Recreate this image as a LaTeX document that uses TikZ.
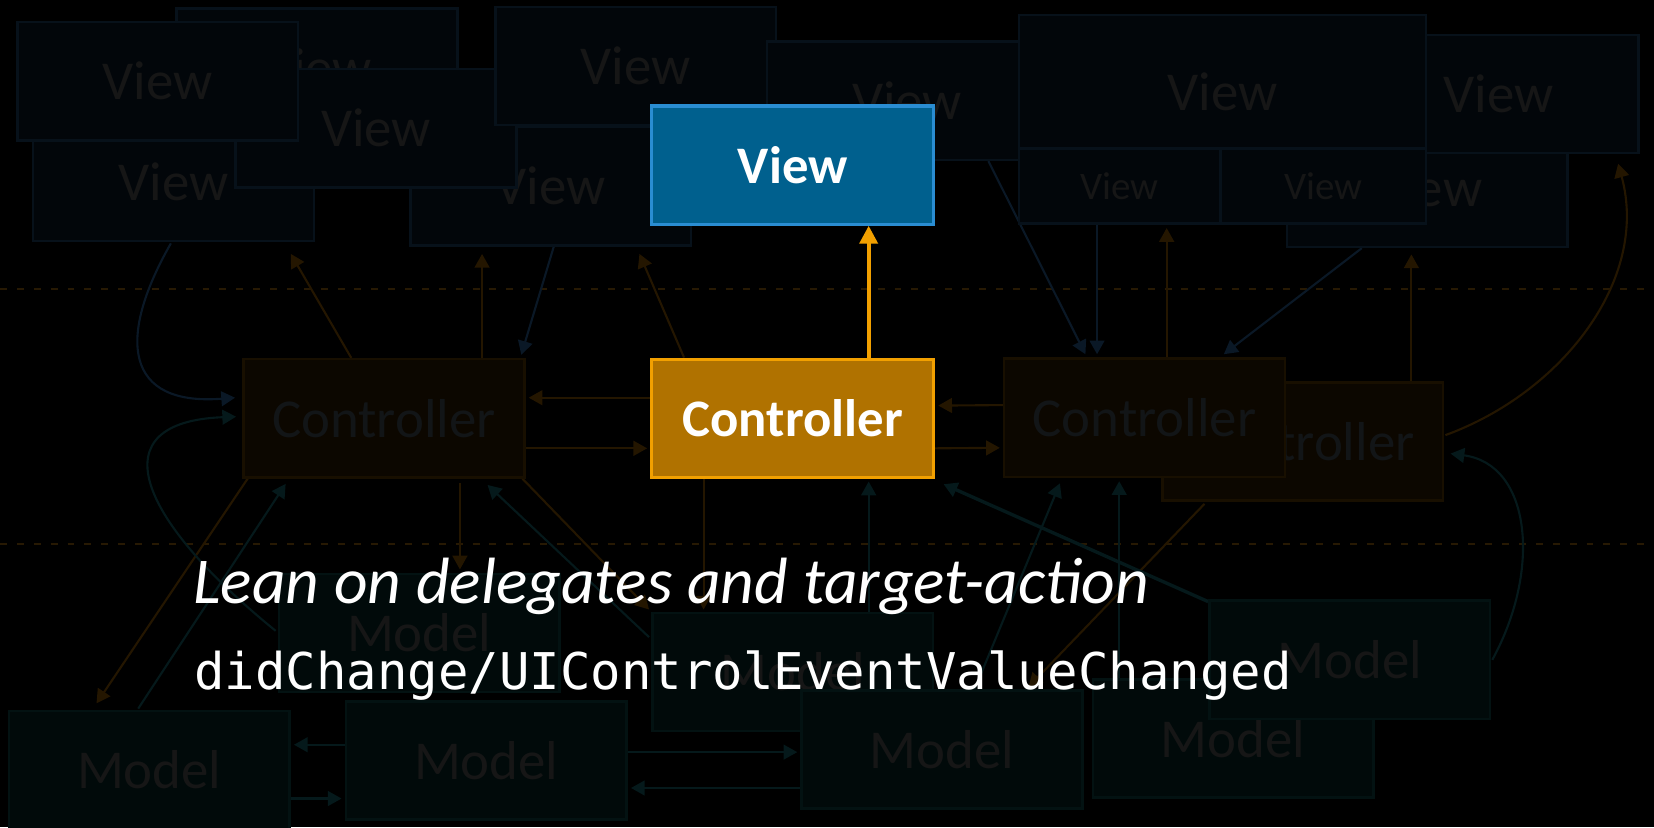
\documentclass[tikz,border=0pt]{standalone}
\usepackage{fontspec}
\setmainfont{Carlito}
\newfontfamily\codefont{DejaVu Sans Mono}
\usetikzlibrary{arrows.meta,calc}
\pgfdeclarelayer{back}
\pgfdeclarelayer{links}
\pgfsetlayers{back,links,main}
\definecolor{dvfill}{HTML}{02060A}
\definecolor{dvline}{HTML}{07111A}
\definecolor{dvtext}{HTML}{161616}
\definecolor{dcfill}{HTML}{0C0700}
\definecolor{dcline}{HTML}{180F00}
\definecolor{dctext}{HTML}{121517}
\definecolor{dmfill}{HTML}{010A0A}
\definecolor{dmline}{HTML}{031212}
\definecolor{dmtext}{HTML}{161616}
\definecolor{lorange}{HTML}{241600}
\definecolor{lblue}{HTML}{0A1826}
\definecolor{lteal}{HTML}{05191B}
\definecolor{dotcol}{HTML}{271903}
\definecolor{vmfill}{HTML}{00608E}
\definecolor{vmline}{HTML}{2A8DD2}
\definecolor{cmfill}{HTML}{B07200}
\definecolor{cmline}{HTML}{F2A000}
\tikzset{
  box/.style={draw, rectangle, minimum width=133pt, minimum height=56pt, inner sep=0pt, line width=1.2pt, font=\fontsize{26}{28}\selectfont},
  dview/.style={box, fill=dvfill, draw=dvline, text=dvtext},
  subview/.style={dview, font=\fontsize{18.5}{20}\selectfont},
  dctrl/.style={box, fill=dcfill, draw=dcline, text=dctext},
  dmodel/.style={box, fill=dmfill, draw=dmline, text=dmtext},
  mainview/.style={box, fill=vmfill, draw=vmline, text=white, line width=1.5pt, font=\fontsize{25}{27}\selectfont\bfseries},
  mainctrl/.style={box, fill=cmfill, draw=cmline, text=white, line width=1.5pt, font=\fontsize{25}{27}\selectfont\bfseries},
  link/.style={line width=1pt, -{Triangle[length=6.5pt,width=7pt]}},
  olink/.style={link, draw=lorange},
  blink/.style={link, draw=lblue},
  tlink/.style={link, draw=lteal},
  mainlink/.style={draw=cmline, line width=1.9pt, -{Triangle[length=8.5pt,width=8.5pt]}},
  dotline/.style={draw=dotcol, line width=1pt, dash pattern=on 3.3pt off 4.7pt},
}
\begin{document}
\begin{tikzpicture}[x=0.5pt,y=-0.5pt]
\begin{pgfonlayer}{back}
\fill[black] (0,0) rectangle (1568,784);
\end{pgfonlayer}
\useasboundingbox (0,0) rectangle (1568,784);

% dotted separators
\coordinate (D1a) at (0,274); \coordinate (D1b) at (1568,274);
\coordinate (D2a) at (0,516); \coordinate (D2b) at (1568,516);
\begin{pgfonlayer}{links}
\draw[dotline] (D1a) -- (D1b);
\draw[dotline] (D2a) -- (D2b);
\end{pgfonlayer}

% view layer
\node[dview] (V2) at (300.5,64) {View};
\node[dview] (V3) at (164.5,172.5) {View};
\node[dview] (V6) at (522,176.5) {View};
\node[dview] (V4) at (356.5,121.5) {View};
\node[dview] (V1) at (149.5,77) {View};
\node[dview] (V5) at (602.5,62.5) {View};
\node[dview] (V7) at (860,95.5) {View};
\node[dview] (V10) at (1353,178) {View};
\node[dview] (V9) at (1420.5,89) {View};
\node[dview, minimum width=193pt, minimum height=99pt] (V8) at (1159,113) {};
\node[font=\fontsize{26}{28}\selectfont, text=dvtext, inner sep=0pt] (V8t) at (1159,87) {View};
\node[subview, minimum width=95.5pt, minimum height=35.5pt] (V8a) at (1061.5,176.5) {View};
\node[subview, minimum width=97.5pt, minimum height=35.5pt] (V8b) at (1254.5,176.5) {View};
\node[mainview, minimum width=133.5pt] (VM) at (751.5,156.5) {View};

% controller layer
\node[dctrl] (CR2) at (1235,418.5) {Controller};
\node[dctrl] (CR1) at (1085,396) {Controller};
\node[dctrl] (CL) at (364,396.5) {Controller};
\node[mainctrl, minimum width=133.5pt] (CM) at (751.5,396.5) {Controller};

% model layer
\node[dmodel] (M1) at (141.5,730) {Model};
\node[dmodel] (M2) at (461,721) {Model};
\node[dmodel] (M3) at (397.5,600) {Model};
\node[dmodel] (M4) at (751.5,637) {Model};
\node[dmodel] (M5) at (893,710.5) {Model};
\node[dmodel] (M6) at (1169,700) {Model};
\node[dmodel] (M7) at (1279.5,625.5) {Model};

\begin{pgfonlayer}{links}
% view -> controller
\draw[blink] ($(V3.south)+(-2.5,1)$) .. controls +(-52,91) and +(-104,8) .. ($(CL.west)+(-7,-19.5)$);
\draw[blink] ($(V6.south)+(3,0)$) -- ($(CL.north east)+(-4,-3)$);
\draw[blink] ($(V7.south)+(77,0)$) -- ($(CR1.north)+(-56,-3)$);
\draw[blink] ($(V8.south)+(-119,0)$) -- ($(CR1.north)+(-45,-3)$);
\draw[blink] ($(V10.south)+(-62,0)$) -- ($(CR1.north east)+(-59,-3)$);
% controller -> view
\draw[olink] ($(CL.north)+(-31,0)$) -- ($(V3.south east)+(-23,11)$);
\draw[olink] ($(CL.north)+(93,0)$) -- ($(V6.south)+(-65,7)$);
\draw[olink] ($(CM.north west)+(32,0)$) -- ($(V6.south east)+(-50,7)$);
\draw[olink] ($(CR1.north)+(21,0)$) -- ($(V8.south)+(-53,3)$);
\draw[olink] ($(CR2.north)+(103,0)$) -- ($(V10.south)+(-15,6)$);
\draw[olink] ($(CR2.east)+(1,-6)$) .. controls +(110,-40) and +(30,110) .. ($(V9.south)+(113.5,9)$);
% controller <-> controller
\draw[olink] ($(CM.west)+(0,-19.5)$) -- ($(CL.east)+(3,-19.5)$);
\draw[olink] ($(CL.east)+(0,28.5)$) -- ($(CM.west)+(-3,28.5)$);
\draw[olink] ($(CR1.west)+(0,-12)$) -- ($(CM.east)+(3,-12)$);
\draw[olink] ($(CM.east)+(0,28.5)$) -- ($(CR1.west)+(-3,28.5)$);
% controller -> model
\draw[olink] ($(CL.south west)+(5,0)$) -- ($(M1.north)+(-50,-6)$);
\draw[olink] ($(CL.south)+(72,4)$) -- ($(M3.north)+(38.5,-3)$);
\draw[olink] ($(CL.south east)+(-3,0)$) -- ($(M4.north west)+(-2,-2)$);
\draw[olink] ($(CM.south)+(-84.5,0)$) -- ($(M4.north)+(-84.5,-2)$);
\draw[olink] ($(CR2.south west)+(41,2)$) -- ($(M5.north)+(82,-2)$);
% model -> controller
\draw[tlink] ($(M3.west)+(-2,-2)$) .. controls +(-133,-108) and +(-130,5) .. ($(CL.west)+(-6,-1.5)$);
\draw[tlink] ($(M1.north)+(-10.5,-1)$) -- ($(CL.south west)+(41,5)$);
\draw[tlink] ($(M4.west)+(-2,-33)$) -- ($(CL.south east)+(-36,6)$);
\draw[tlink] ($(M4.north)+(72,0)$) -- ($(CM.south)+(72,2.5)$);
\draw[tlink, line width=1.6pt] ($(M7.north west)+(0,2)$) -- ($(CM.south east)+(8,5)$);
\draw[tlink] ($(M5.north)+(31,0)$) -- ($(CR1.south west)+(54,5)$);
\draw[tlink] ($(M6.north)+(-108,0)$) -- ($(CR1.south)+(-24,3)$);
\draw[tlink] ($(M7.east)+(1,0)$) .. controls +(47,-86) and +(76,10) .. ($(CR2.east)+(6,11.5)$);
% model <-> model
\draw[tlink] ($(M2.west)+(0,-15)$) -- ($(M1.east)+(3,-24)$);
\draw[tlink] ($(M1.east)+(0,27)$) -- ($(M2.west)+(-3,36)$);
\draw[tlink] ($(M2.east)+(0,-8)$) -- ($(M5.west)+(-3,2.5)$);
\draw[tlink] ($(M5.west)+(0,36.5)$) -- ($(M2.east)+(3,26)$);
\end{pgfonlayer}

% highlighted connection
\draw[mainlink] ($(CM.north)+(72,0)$) -- ($(VM.south)+(72,0)$);

% caption texts
\node[anchor=base west, text=white, inner sep=0pt] (T1) at (183,572)
  {\resizebox{453pt}{!}{\fontsize{29}{30}\selectfont\itshape Lean on delegates and target-action}};
\node[anchor=base west, text=white, inner sep=0pt, font=\codefont\fontsize{24}{26}\selectfont] (T2) at (184,654)
  {didChange/UIControlEventValueChanged};
\end{tikzpicture}
\end{document}
